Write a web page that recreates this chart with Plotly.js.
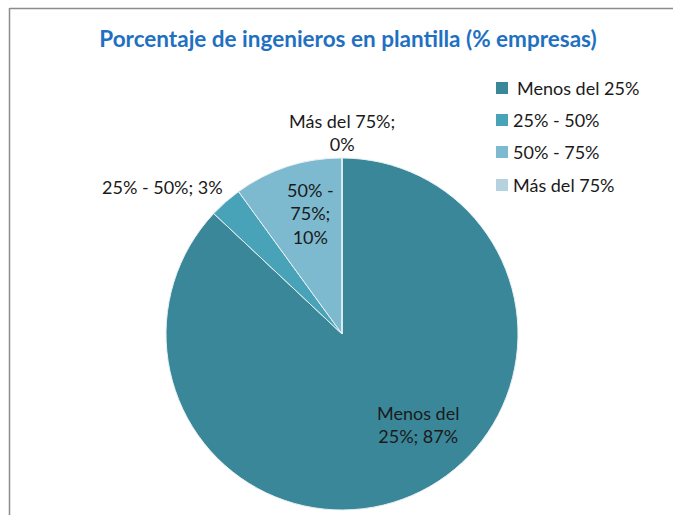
<!DOCTYPE html>
<html>
<head>
<meta charset="utf-8">
<script src="https://cdn.plot.ly/plotly-3.0.1.min.js"></script>
<style>
html,body{margin:0;padding:0;background:#fff;}
#chart{width:673px;height:515px;}
</style>
</head>
<body>
<div id="chart"></div>
<script>
// Data
const categories = ["Menos del 25%", "25% - 50%", "50% - 75%", "Más del 75%"];
const values = [87, 3, 10, 0];
const sliceColors = ["#3A8799", "#48A2B8", "#7DB9CF", "#B5D3DF"];
const chartTitle = "Porcentaje de ingenieros en plantilla (% empresas)";

const W = 673, H = 515;
const px = x => x / W;
const py = y => 1 - y / H;
const FONT = "Lato, 'Open Sans', sans-serif";

// Data label placement (style only) — text built from the data arrays
const labelPos = [
  {x: 418, y: 424},
  {x: 162, y: 187},
  {x: 310, y: 214},
  {x: 342, y: 132}
];

function labelText(i) {
  let t = categories[i] + "; " + values[i] + "%";
  if (i === 0) t = t.replace("Menos del ", "Menos del<br>");
  if (i === 2) t = t.replace("50% - ", "50% -<br>").replace("75%; ", "75%;<br>");
  if (i === 3) t = t.replace("; ", ";<br>");
  return t;
}

const annotations = [];
labelPos.forEach((p, i) => {
  annotations.push({
    xref: "paper", yref: "paper",
    x: px(p.x), y: py(p.y),
    xanchor: "center", yanchor: "middle",
    text: labelText(i), showarrow: false, align: "center",
    font: {family: FONT, size: 18, color: "#1a1a1a"}
  });
});

// Manual legend (squares + text)
const legY = [88, 120, 152, 185];
const shapes = [
  // chart border
  {type: "line", xref: "paper", yref: "paper", x0: px(9.5), x1: px(9.5), y0: py(8), y1: 0, line: {color: "#8c8c8c", width: 1.5}},
  {type: "line", xref: "paper", yref: "paper", x0: px(9.5), x1: 1, y0: py(8.5), y1: py(8.5), line: {color: "#8c8c8c", width: 1.5}}
];
categories.forEach((c, i) => {
  shapes.push({type: "rect", xref: "paper", yref: "paper",
    x0: px(496), x1: px(508), y0: py(legY[i] - 6), y1: py(legY[i] + 6),
    fillcolor: sliceColors[i], line: {width: 0}});
  annotations.push({
    xref: "paper", yref: "paper", x: px(i === 0 ? 515 : 511), y: py(legY[i]),
    xanchor: "left", yanchor: "middle", text: c, showarrow: false,
    font: {family: FONT, size: 18, color: "#1a1a1a"}
  });
});

const cx = 342, cy = 334, r = 176;

const trace = {
  type: "pie",
  labels: categories,
  values: values,
  sort: false,
  direction: "clockwise",
  rotation: 0,
  marker: {colors: sliceColors, line: {color: "#e8f0f3", width: 1}},
  textinfo: "none",
  hoverinfo: "label+percent",
  showlegend: false,
  domain: {x: [px(cx - r), px(cx + r)], y: [py(cy + r), py(cy - r)]}
};

const layout = {
  width: W, height: H,
  margin: {l: 0, r: 0, t: 0, b: 0},
  paper_bgcolor: "#ffffff",
  title: {
    text: "<b>" + chartTitle + "</b>",
    x: px(348), xanchor: "center",
    y: py(39), yanchor: "middle",
    font: {family: FONT, size: 22.5, color: "#1F70C1"}
  },
  showlegend: false,
  shapes: shapes,
  annotations: annotations
};

Plotly.newPlot("chart", [trace], layout, {displayModeBar: false, staticPlot: true});
</script>
</body>
</html>
